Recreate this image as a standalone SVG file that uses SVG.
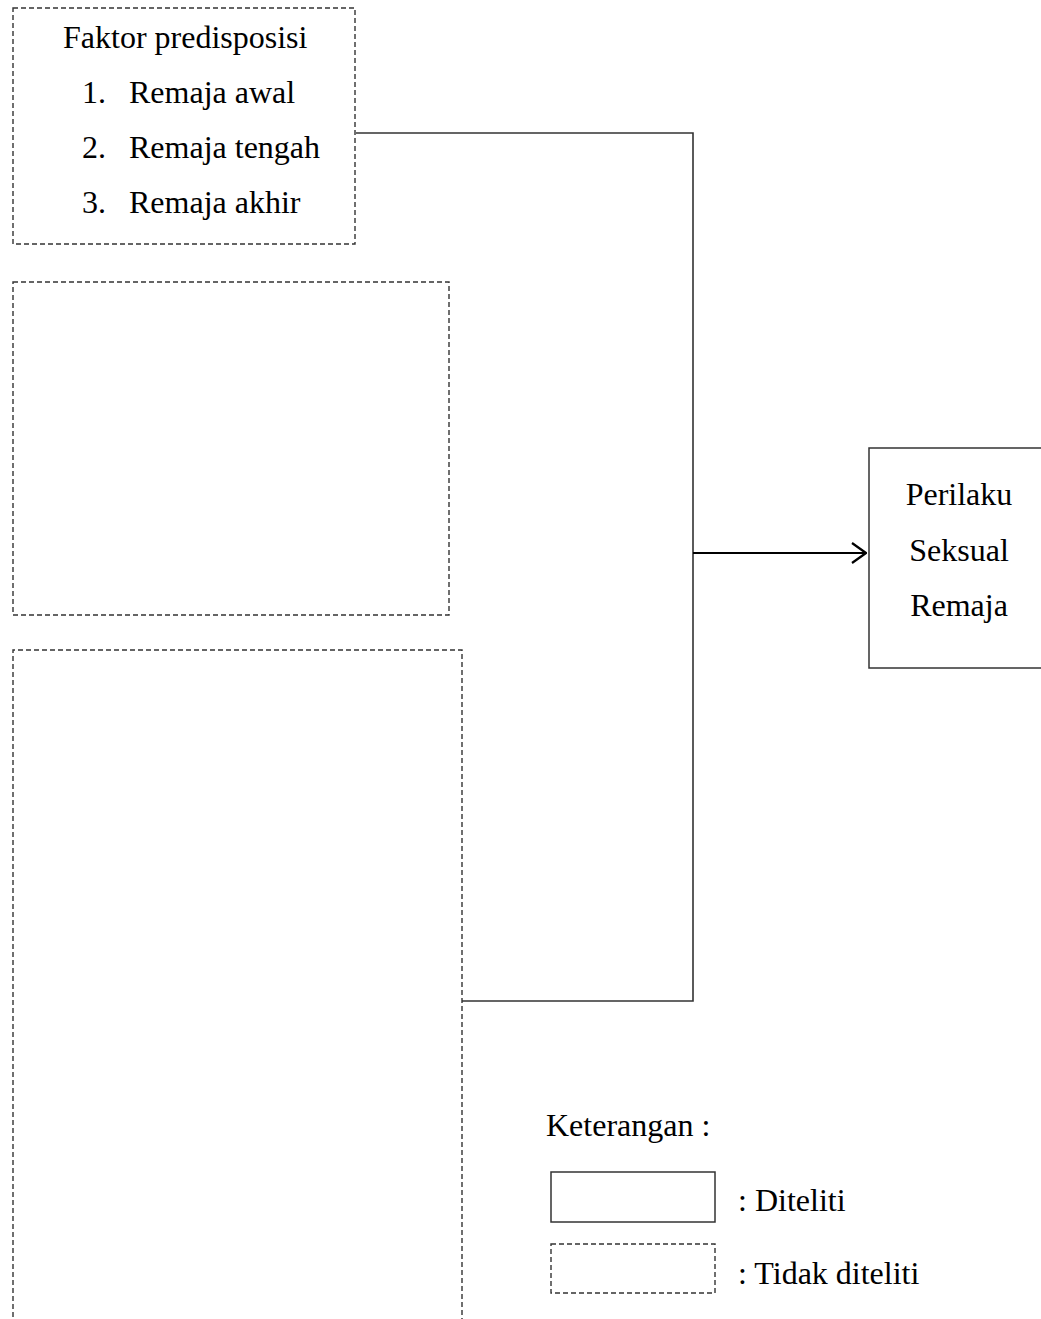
<svg xmlns="http://www.w3.org/2000/svg" width="1041" height="1319" viewBox="0 0 1041 1319">
<style>
text{font-family:"Liberation Serif","Times New Roman",serif;font-size:32px;fill:#000}
.dash{fill:none;stroke:#333;stroke-width:1.4;stroke-dasharray:5 3}
.solid{fill:none;stroke:#333;stroke-width:1.5}
.conn{fill:none;stroke:#333;stroke-width:1.6}
.mid{text-anchor:middle}
</style>
<defs>
<marker id="arr" viewBox="0 0 16 24" refX="15" refY="12" markerWidth="16" markerHeight="24" markerUnits="userSpaceOnUse" orient="auto">
<path d="M1,2 L15,12 L1,22" fill="none" stroke="#000" stroke-width="2.2"/>
</marker>
</defs>
<g id="connectors">
<polyline class="conn" points="356,133 693,133 693,1001 462,1001"/>
<line x1="693" y1="553" x2="866" y2="553" stroke="#000" stroke-width="2.2" marker-end="url(#arr)"/>
</g>
<g id="node-faktor">
<rect class="dash" x="13" y="8" width="342" height="236"/>
<text x="63" y="48">Faktor predisposisi</text>
<text x="82" y="103">1.</text><text x="129" y="103">Remaja awal</text>
<text x="82" y="158">2.</text><text x="129" y="158">Remaja tengah</text>
<text x="82" y="213">3.</text><text x="129" y="213">Remaja akhir</text>
</g>
<g id="node-box2">
<rect class="dash" x="13" y="282" width="436" height="333"/>
</g>
<g id="node-box3">
<path class="dash" d="M13,1325 L13,650 L462,650 L462,1325"/>
</g>
<g id="node-perilaku">
<rect class="solid" x="869" y="448" width="190" height="220"/>
<text class="mid" x="959" y="505">Perilaku</text>
<text class="mid" x="959" y="561">Seksual</text>
<text class="mid" x="959" y="616">Remaja</text>
</g>
<g id="legend">
<text x="546" y="1136">Keterangan :</text>
<rect class="solid" x="551" y="1172" width="164" height="50"/>
<text x="738" y="1211">: Diteliti</text>
<rect class="dash" x="551" y="1244" width="164" height="49"/>
<text x="738" y="1284">: Tidak diteliti</text>
</g>
</svg>
